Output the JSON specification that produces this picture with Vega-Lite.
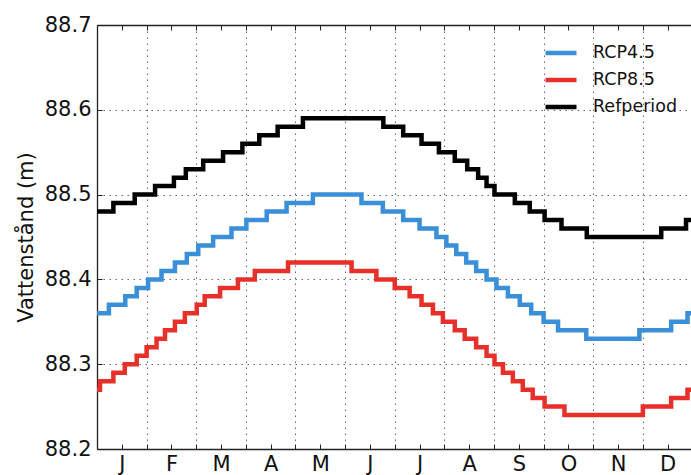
{
  "$schema": "https://vega.github.io/schema/vega-lite/v6.json",
  "width": 594,
  "height": 424,
  "autosize": {"type": "none"},
  "padding": {"left": 97, "top": 25, "right": 0, "bottom": 26},
  "background": "white",
  "config": {
    "view": {"stroke": null},
    "font": "DejaVu Sans",
    "axis": {"domainColor": "#222", "domainWidth": 1.3, "tickColor": "#222", "tickWidth": 1, "labelColor": "#111", "labelFont": "DejaVu Sans", "titleFont": "DejaVu Sans", "titleColor": "#111"}
  },
  "data": {"values": [
    {"s": "RCP4.5", "m": 0, "v": 88.36}, {"s": "RCP4.5", "m": 0.24, "v": 88.37}, {"s": "RCP4.5", "m": 0.57, "v": 88.38}, {"s": "RCP4.5", "m": 0.80, "v": 88.39}, {"s": "RCP4.5", "m": 1.03, "v": 88.40}, {"s": "RCP4.5", "m": 1.30, "v": 88.41}, {"s": "RCP4.5", "m": 1.57, "v": 88.42}, {"s": "RCP4.5", "m": 1.81, "v": 88.43}, {"s": "RCP4.5", "m": 2.04, "v": 88.44}, {"s": "RCP4.5", "m": 2.34, "v": 88.45}, {"s": "RCP4.5", "m": 2.71, "v": 88.46}, {"s": "RCP4.5", "m": 3.01, "v": 88.47}, {"s": "RCP4.5", "m": 3.42, "v": 88.48}, {"s": "RCP4.5", "m": 3.82, "v": 88.49}, {"s": "RCP4.5", "m": 4.35, "v": 88.50}, {"s": "RCP4.5", "m": 5.33, "v": 88.49}, {"s": "RCP4.5", "m": 5.76, "v": 88.48}, {"s": "RCP4.5", "m": 6.17, "v": 88.47}, {"s": "RCP4.5", "m": 6.50, "v": 88.46}, {"s": "RCP4.5", "m": 6.84, "v": 88.45}, {"s": "RCP4.5", "m": 7.04, "v": 88.44}, {"s": "RCP4.5", "m": 7.24, "v": 88.43}, {"s": "RCP4.5", "m": 7.44, "v": 88.42}, {"s": "RCP4.5", "m": 7.64, "v": 88.41}, {"s": "RCP4.5", "m": 7.85, "v": 88.40}, {"s": "RCP4.5", "m": 8.05, "v": 88.39}, {"s": "RCP4.5", "m": 8.28, "v": 88.38}, {"s": "RCP4.5", "m": 8.52, "v": 88.37}, {"s": "RCP4.5", "m": 8.75, "v": 88.36}, {"s": "RCP4.5", "m": 9.00, "v": 88.35}, {"s": "RCP4.5", "m": 9.29, "v": 88.34}, {"s": "RCP4.5", "m": 9.86, "v": 88.33}, {"s": "RCP4.5", "m": 10.93, "v": 88.34}, {"s": "RCP4.5", "m": 11.57, "v": 88.35}, {"s": "RCP4.5", "m": 11.90, "v": 88.36}, {"s": "RCP4.5", "m": 12, "v": 88.36},
    {"s": "RCP8.5", "m": 0, "v": 88.27}, {"s": "RCP8.5", "m": 0.06, "v": 88.28}, {"s": "RCP8.5", "m": 0.33, "v": 88.29}, {"s": "RCP8.5", "m": 0.56, "v": 88.30}, {"s": "RCP8.5", "m": 0.80, "v": 88.31}, {"s": "RCP8.5", "m": 1.00, "v": 88.32}, {"s": "RCP8.5", "m": 1.20, "v": 88.33}, {"s": "RCP8.5", "m": 1.37, "v": 88.34}, {"s": "RCP8.5", "m": 1.57, "v": 88.35}, {"s": "RCP8.5", "m": 1.77, "v": 88.36}, {"s": "RCP8.5", "m": 2.01, "v": 88.37}, {"s": "RCP8.5", "m": 2.17, "v": 88.38}, {"s": "RCP8.5", "m": 2.48, "v": 88.39}, {"s": "RCP8.5", "m": 2.84, "v": 88.40}, {"s": "RCP8.5", "m": 3.18, "v": 88.41}, {"s": "RCP8.5", "m": 3.85, "v": 88.42}, {"s": "RCP8.5", "m": 5.13, "v": 88.41}, {"s": "RCP8.5", "m": 5.63, "v": 88.40}, {"s": "RCP8.5", "m": 6.00, "v": 88.39}, {"s": "RCP8.5", "m": 6.30, "v": 88.38}, {"s": "RCP8.5", "m": 6.54, "v": 88.37}, {"s": "RCP8.5", "m": 6.77, "v": 88.36}, {"s": "RCP8.5", "m": 6.97, "v": 88.35}, {"s": "RCP8.5", "m": 7.21, "v": 88.34}, {"s": "RCP8.5", "m": 7.41, "v": 88.33}, {"s": "RCP8.5", "m": 7.64, "v": 88.32}, {"s": "RCP8.5", "m": 7.85, "v": 88.31}, {"s": "RCP8.5", "m": 8.01, "v": 88.30}, {"s": "RCP8.5", "m": 8.18, "v": 88.29}, {"s": "RCP8.5", "m": 8.38, "v": 88.28}, {"s": "RCP8.5", "m": 8.58, "v": 88.27}, {"s": "RCP8.5", "m": 8.78, "v": 88.26}, {"s": "RCP8.5", "m": 9.02, "v": 88.25}, {"s": "RCP8.5", "m": 9.42, "v": 88.24}, {"s": "RCP8.5", "m": 11.00, "v": 88.25}, {"s": "RCP8.5", "m": 11.57, "v": 88.26}, {"s": "RCP8.5", "m": 11.90, "v": 88.27}, {"s": "RCP8.5", "m": 12, "v": 88.27},
    {"s": "Refperiod", "m": 0, "v": 88.48}, {"s": "Refperiod", "m": 0.33, "v": 88.49}, {"s": "Refperiod", "m": 0.76, "v": 88.50}, {"s": "Refperiod", "m": 1.17, "v": 88.51}, {"s": "Refperiod", "m": 1.55, "v": 88.52}, {"s": "Refperiod", "m": 1.79, "v": 88.53}, {"s": "Refperiod", "m": 2.14, "v": 88.54}, {"s": "Refperiod", "m": 2.54, "v": 88.55}, {"s": "Refperiod", "m": 2.93, "v": 88.56}, {"s": "Refperiod", "m": 3.27, "v": 88.57}, {"s": "Refperiod", "m": 3.64, "v": 88.58}, {"s": "Refperiod", "m": 4.15, "v": 88.59}, {"s": "Refperiod", "m": 5.77, "v": 88.58}, {"s": "Refperiod", "m": 6.17, "v": 88.57}, {"s": "Refperiod", "m": 6.54, "v": 88.56}, {"s": "Refperiod", "m": 6.89, "v": 88.55}, {"s": "Refperiod", "m": 7.21, "v": 88.54}, {"s": "Refperiod", "m": 7.46, "v": 88.53}, {"s": "Refperiod", "m": 7.68, "v": 88.52}, {"s": "Refperiod", "m": 7.85, "v": 88.51}, {"s": "Refperiod", "m": 8.01, "v": 88.50}, {"s": "Refperiod", "m": 8.42, "v": 88.49}, {"s": "Refperiod", "m": 8.72, "v": 88.48}, {"s": "Refperiod", "m": 9.02, "v": 88.47}, {"s": "Refperiod", "m": 9.36, "v": 88.46}, {"s": "Refperiod", "m": 9.87, "v": 88.45}, {"s": "Refperiod", "m": 11.37, "v": 88.46}, {"s": "Refperiod", "m": 11.87, "v": 88.47}, {"s": "Refperiod", "m": 12, "v": 88.47}
  ]},
  "layer": [
    {
      "mark": {"type": "line", "interpolate": "step-after", "clip": true},
      "encoding": {
        "x": {"field": "m", "type": "quantitative",
          "scale": {"domain": [0, 11.97], "nice": false, "zero": false},
          "axis": {"orient": "bottom", "title": null,
            "values": [0, 0.5, 1, 1.5, 2, 2.5, 3, 3.5, 4, 4.5, 5, 5.5, 6, 6.5, 7, 7.5, 8, 8.5, 9, 9.5, 10, 10.5, 11, 11.5],
            "labelExpr": "datum.value % 1 == 0.5 ? ['J','F','M','A','M','J','J','A','S','O','N','D'][floor(datum.value)] : ''",
            "labelOverlap": false, "labelFlush": false, "labelFontSize": 21, "labelPadding": 9,
            "tickSize": -5,
            "grid": true, "gridColor": "#555", "gridDash": [1.5, 4.5], "gridWidth": 1,
            "gridOpacity": {"condition": {"test": "datum.value % 1 != 0", "value": 0}, "value": 0.9}}
        },
        "y": {"field": "v", "type": "quantitative",
          "scale": {"domain": [88.2, 88.7], "nice": false, "zero": false},
          "axis": {"title": "Vattenstånd (m)", "titleFontSize": 21, "titleFontWeight": "normal", "titlePadding": 8,
            "values": [88.2, 88.3, 88.4, 88.5, 88.6, 88.7], "format": ".1f",
            "labelFontSize": 21, "labelPadding": 11, "tickSize": -5,
            "grid": true, "gridColor": "#555", "gridDash": [1.5, 4.5], "gridWidth": 1, "gridOpacity": 0.9}
        },
        "color": {"field": "s", "type": "nominal",
          "scale": {"domain": ["RCP4.5", "RCP8.5", "Refperiod"], "range": ["#3a8fd9", "#e8302a", "#000000"]},
          "legend": {"title": null, "orient": "none", "legendX": 446, "legendY": 10, "padding": 0,
            "symbolType": "stroke", "symbolSize": 961, "symbolStrokeWidth": 5,
            "labelFontSize": 17.5, "labelColor": "#111", "labelOffset": 14, "rowPadding": -3}
        },
        "strokeWidth": {"field": "s", "type": "nominal",
          "scale": {"domain": ["RCP4.5", "RCP8.5", "Refperiod"], "range": [4.5, 4.5, 5.5]},
          "legend": null}
      }
    },
    {
      "mark": {"type": "line", "interpolate": "step-after", "strokeOpacity": 0, "clip": true},
      "encoding": {
        "x": {"field": "m", "type": "quantitative",
          "axis": {"orient": "top", "title": null, "labels": false, "grid": false, "tickSize": -5,
            "values": [0, 0.5, 1, 1.5, 2, 2.5, 3, 3.5, 4, 4.5, 5, 5.5, 6, 6.5, 7, 7.5, 8, 8.5, 9, 9.5, 10, 10.5, 11, 11.5]}
        },
        "y": {"field": "v", "type": "quantitative", "axis": null},
        "detail": {"field": "s"}
      }
    }
  ],
  "resolve": {"axis": {"x": "independent", "y": "independent"}}
}
